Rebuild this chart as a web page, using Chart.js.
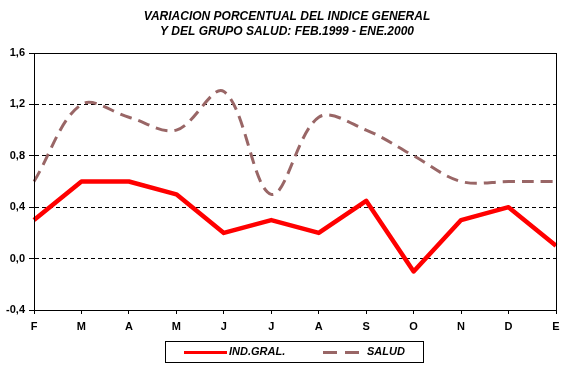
<!DOCTYPE html>
<html>
<head>
<meta charset="utf-8">
<script src="https://cdn.jsdelivr.net/npm/chart.js@4"></script>
<style>
  html, body { margin: 0; padding: 0; background: #fff; }
  #wrap { width: 570px; height: 367px; }
</style>
</head>
<body>
<div id="wrap"><canvas id="chart" width="570" height="367"></canvas></div>
<script>
const months = ['F', 'M', 'A', 'M', 'J', 'J', 'A', 'S', 'O', 'N', 'D', 'E'];
const indGral = [0.3, 0.6, 0.6, 0.5, 0.2, 0.3, 0.2, 0.45, -0.1, 0.3, 0.4, 0.1];
const salud = [0.6, 1.2, 1.1, 1.0, 1.3, 0.5, 1.1, 1.0, 0.8, 0.6, 0.6, 0.6];
const yTicks = [-0.4, 0.0, 0.4, 0.8, 1.2, 1.6];
const yTickLabels = ['-0,4', '0,0', '0,4', '0,8', '1,2', '1,6'];
const titleLines = ['VARIACION PORCENTUAL DEL INDICE GENERAL', 'Y DEL GRUPO SALUD: FEB.1999 - ENE.2000'];

const FONT = '"Liberation Sans", Arial, sans-serif';

// title, frame around the plot and the boxed legend under the axis
const framePlugin = {
  id: 'frame',
  afterDraw(chart) {
    const { ctx, chartArea: a } = chart;
    ctx.save();
    ctx.fillStyle = '#000';
    ctx.font = 'italic bold 12px ' + FONT;
    ctx.textAlign = 'center';
    ctx.textBaseline = 'middle';
    titleLines.forEach((t, i) => ctx.fillText(t, 287, 17 + i * 15));

    ctx.strokeStyle = '#000';
    ctx.lineWidth = 1;
    ctx.setLineDash([]);
    ctx.strokeRect(Math.round(a.left) + 0.5, Math.round(a.top) + 0.5,
      Math.round(a.right - a.left), Math.round(a.bottom - a.top));

    // legend
    ctx.strokeRect(165.5, 341.5, 258, 21);
    const ds = chart.data.datasets;
    const items = [
      { x1: 184, x2: 227, tx: 229 },
      { x1: 323, x2: 359, tx: 367 }
    ];
    ctx.font = 'italic bold 11px ' + FONT;
    ctx.textAlign = 'left';
    ds.forEach((d, i) => {
      const it = items[i];
      ctx.beginPath();
      ctx.strokeStyle = d.borderColor;
      ctx.lineWidth = 3;
      ctx.setLineDash(i === 1 ? [14, 8] : []);
      ctx.moveTo(it.x1, 352.5);
      ctx.lineTo(it.x2, 352.5);
      ctx.stroke();
      ctx.fillText(d.label, it.tx, 352);
    });
    ctx.restore();
  }
};

Chart.defaults.color = '#000';
Chart.defaults.font.family = FONT;

new Chart(document.getElementById('chart').getContext('2d'), {
  type: 'line',
  data: {
    labels: months,
    datasets: [{
      label: 'IND.GRAL.',
      data: indGral,
      borderColor: '#ff0000',
      borderWidth: 4.5,
      pointRadius: 0,
      tension: 0,
      borderJoinStyle: 'round'
    }, {
      label: 'SALUD',
      data: salud,
      borderColor: '#996666',
      borderWidth: 3,
      borderDash: [12, 7],
      pointRadius: 0,
      tension: 0.35
    }]
  },
  options: {
    responsive: false,
    animation: false,
    layout: { padding: { left: 0, right: 14, top: 53, bottom: 0 } },
    plugins: {
      legend: { display: false },
      tooltip: { enabled: false },
      title: { display: false }
    },
    scales: {
      x: {
        offset: false,
        afterFit: (s) => { s.height = 57; },
        grid: { drawOnChartArea: false, tickLength: 4, color: '#000' },
        border: { color: '#000' },
        ticks: { font: { size: 11, weight: 'bold' }, padding: 6, maxRotation: 0, autoSkip: false }
      },
      y: {
        min: -0.4,
        max: 1.6,
        afterFit: (s) => { s.width = 34; },
        afterBuildTicks: (s) => { s.ticks = yTicks.map(v => ({ value: v })); },
        grid: { color: '#000', tickLength: 5, tickBorderDash: [], tickColor: '#000' },
        border: { color: '#000', dash: [4, 3] },
        ticks: {
          font: { size: 11, weight: 'bold' },
          padding: 4,
          callback: (v, i) => yTickLabels[i]
        }
      }
    }
  },
  plugins: [framePlugin]
});
</script>
</body>
</html>
